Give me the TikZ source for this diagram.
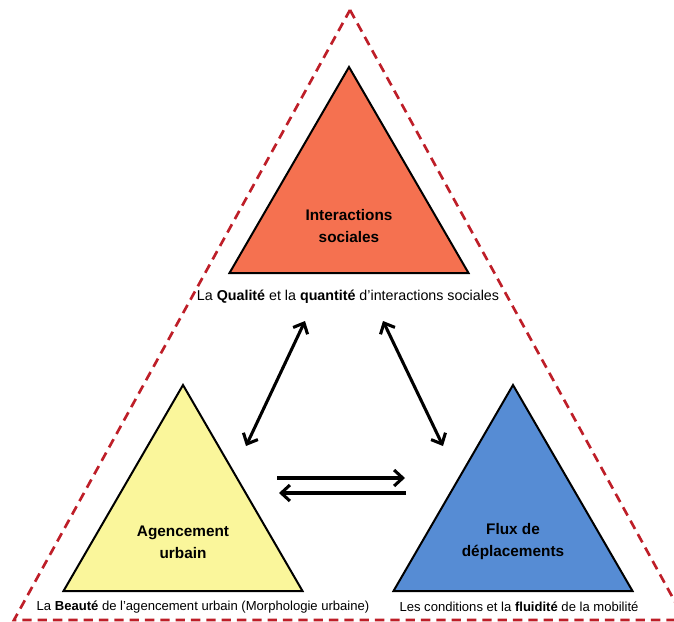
\documentclass[tikz,border=0pt]{standalone}
\usepackage{fontspec}
\setmainfont{Liberation Sans}
\usetikzlibrary{arrows.meta}
\definecolor{dashred}{RGB}{190,30,40}
\definecolor{socred}{RGB}{245,113,80}
\definecolor{urbyellow}{RGB}{250,246,155}
\definecolor{fluxblue}{RGB}{86,140,212}
\tikzset{>={Straight Barb[length=6.5pt,width=12pt,line width=2.3pt]},
  tri/.style={draw=black,line width=1.5pt,line join=miter},
  outer/.style={draw=dashred,line width=2pt,dash pattern=on 7pt off 4.5pt},
  link/.style={draw=black,line width=2.3pt},
  inlabel/.style={align=center,font=\fontsize{11.5}{16.5}\selectfont\bfseries,inner sep=0pt},
  caption/.style={font=\fontsize{10.7}{12}\selectfont,inner sep=0pt},
  subcaption/.style={font=\fontsize{9.8}{12}\selectfont,inner sep=0pt}}

\begin{document}
\begin{tikzpicture}[x=0.75pt,y=-0.75pt]
  \useasboundingbox (0,0) rectangle (674,621);
  \begin{scope}
   \clip (0,0) rectangle (674,621);
   \draw[outer] (350,10) -- (685,620) -- (14,620) -- cycle;
  \end{scope}
  % the three triangles
  \foreach \n/\x/\y/\c in {soc/349/67/socred, urb/183/385/urbyellow, flux/513/385/fluxblue} {
    \draw[tri,fill=\c] (\x,\y) coordinate (\n-top) -- ++(119.5,206) coordinate (\n-r)
      -- ++(-239,0) coordinate (\n-l) -- cycle;
  }
  \node[inlabel] (soc) at (349,226) {Interactions\\sociales};
  \node[inlabel] (urb) at (183,542) {Agencement\\urbain};
  \node[inlabel] (flux) at (513,542) {Flux de\\déplacements};
  \node[caption] (soc-cap) at (348,297) {La \textbf{Qualité} et la \textbf{quantité} d’interactions sociales};
  \node[subcaption] (urb-cap) at (203,607) {La \textbf{Beauté} de l’agencement urbain (Morphologie urbaine)};
  \node[subcaption] (flux-cap) at (519,607) {Les conditions et la \textbf{fluidité} de la mobilité};
  % arrows
  \coordinate (soc-sw) at (305,321);
  \coordinate (urb-ne) at (246,446);
  \coordinate (soc-se) at (383,321);
  \coordinate (flux-nw) at (443,446);
  \coordinate (urb-e1) at (277,478);
  \coordinate (flux-w1) at (405,478);
  \coordinate (urb-e2) at (279,493);
  \coordinate (flux-w2) at (406,493);
  \draw[link,<->] (soc-sw) -- (urb-ne);
  \draw[link,<->] (soc-se) -- (flux-nw);
  \draw[link,->] (urb-e1) -- (flux-w1);
  \draw[link,->] (flux-w2) -- (urb-e2);
 \end{tikzpicture}
\end{document}
